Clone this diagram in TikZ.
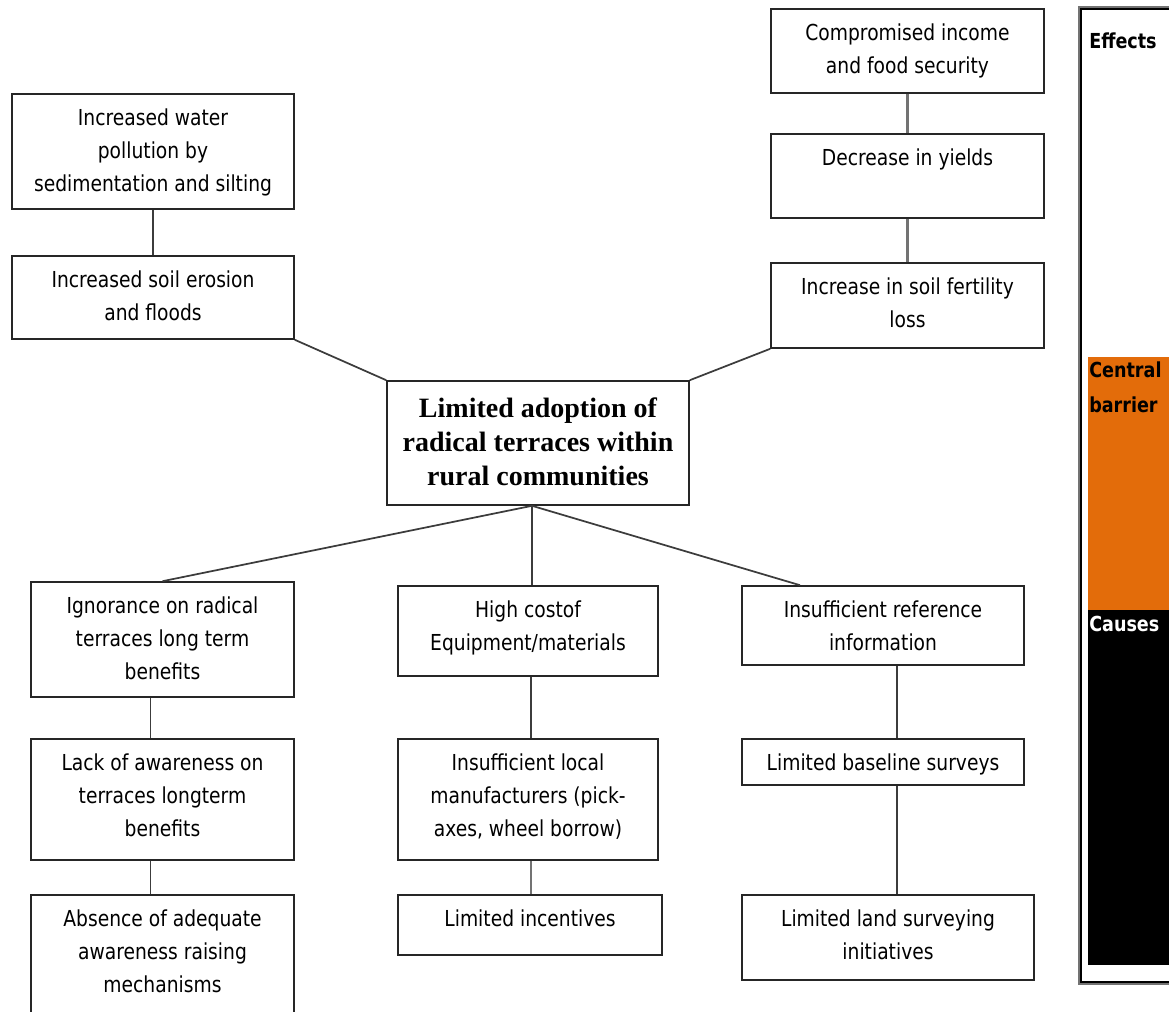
\documentclass[tikz,border=0pt]{standalone}
\usepackage{fontspec}
\usetikzlibrary{fit,calc}
\newfontfamily\cellfont{DejaVu Sans}[FakeStretch=0.85]
\newfontfamily\titlefont{Liberation Serif}
\definecolor{barrierorange}{RGB}{227,108,10}
\definecolor{linkgray}{RGB}{60,60,60}
\definecolor{chaingray}{RGB}{115,115,115}

\tikzset{
  cell/.style={draw=black!85, line width=1.2pt, rectangle, inner sep=0pt},
  celltext/.style={font=\cellfont\fontsize{16.5}{24.75}\selectfont, align=center,
                   inner sep=0pt, anchor=north},
  link/.style={draw=linkgray, line width=1.3pt},
  chain/.style={draw=chaingray, line width=1.7pt},
  sidetext/.style={font=\cellfont\bfseries\fontsize{15.5}{26}\selectfont, align=left,
                   inner sep=0pt},
}

% a framed cell spanning (x1,y1)-(x2,y2) with its text hung from the top edge
\newcommand\cellbox[6]{%
  \node[cell, fit={(#2,#3) (#4,#5)}] (#1) {};
  \node[celltext] (#1-t) at ([yshift=-11.25pt]#1.north) {#6};
}

\begin{document}
\begin{tikzpicture}[x=0.75pt,y=-0.75pt]
\useasboundingbox (0,0) rectangle (1169,1012);
\clip (0,0) rectangle (1169,1012);

% ---- effects ----
\cellbox{B1}{771}{9}{1044}{93}{Compromised income\\and food security}
\cellbox{B2}{771}{134}{1044}{218}{Decrease in yields}
\cellbox{B3}{771}{263}{1044}{348}{Increase in soil fertility\\loss}
\cellbox{L1}{12}{94}{294}{209}{Increased water\\pollution by\\sedimentation and silting}
\cellbox{L2}{12}{256}{294}{339}{Increased soil erosion\\and floods}

% ---- central barrier ----
\node[cell, fit={(387,381) (689,505)}] (core) {};
\node[anchor=north, inner sep=0pt, align=center,
      font=\titlefont\bfseries\fontsize{21}{25.5}\selectfont]
  (core-t) at ([yshift=-13pt]core.north) {Limited adoption of\\radical terraces within\\rural communities};

% ---- causes ----
\cellbox{C1}{31}{582}{294}{697}{Ignorance on radical\\terraces long term\\benefits}
\cellbox{C2}{398}{586}{658}{676}{High costof\\Equipment/materials}
\cellbox{C3}{742}{586}{1024}{665}{Insufficient reference\\information}
\cellbox{C1a}{31}{739}{294}{860}{Lack of awareness on\\terraces longterm\\benefits}
\cellbox{C1b}{31}{895}{294}{1040}{Absence of adequate\\awareness raising\\mechanisms}
\cellbox{C2a}{398}{739}{658}{860}{Insufficient local\\manufacturers (pick-\\axes, wheel borrow)}
\cellbox{C2b}{398}{895}{662}{955}{Limited incentives}
\cellbox{C3a}{742}{739}{1024}{785}{Limited baseline surveys}
\cellbox{C3b}{742}{895}{1034}{980}{Limited land surveying\\initiatives}

% ---- connectors ----
\draw[link] (L1.south) -- (L2.north);
\draw[link] (L2.south east) -- (core.north west);
\draw[chain] (B1.south) -- (B2.north);
\draw[chain] (B2.south) -- (B3.north);
\draw[link] (B3.south west) -- (core.north east);

\coordinate (hub) at ([xshift=-4.5pt]core.south);
\coordinate (C3in) at ([xshift=-62.25pt]C3.north);
\draw[link] (hub) -- (C1.north);
\draw[link] (hub) -- (hub |- C2.north);
\draw[link] (hub) -- (C3in);

\draw[link] ([xshift=-9pt]C1.south) -- ([xshift=-9pt]C1a.north);
\draw[link] ([xshift=-9pt]C1a.south) -- ([xshift=-9pt]C1b.north);
\draw[link] ([xshift=2.25pt]C2.south) -- ([xshift=2.25pt]C2a.north);
\draw[chain] ([xshift=2.25pt]C2a.south) -- ([xshift=2.25pt]C2a.south |- C2b.north);
\draw[link] ([xshift=10.5pt]C3.south) -- ([xshift=10.5pt]C3a.north);
\draw[link] ([xshift=10.5pt]C3a.south) -- ([xshift=10.5pt]C3a.south |- C3b.north);

% ---- side legend ----
\draw[chaingray, line width=1pt] (1079,7) rectangle (1190,984);
\draw[black, line width=1pt] (1081,9) rectangle (1190,982);
\fill[barrierorange] (1088,357) rectangle (1190,610);
\fill[black] (1088,610) rectangle (1190,965);
\node[sidetext, anchor=west] (fx) at (1089,41) {Effects};
\node[sidetext, anchor=north west] (cb) at (1089,362) {Central\\barrier};
\node[sidetext, anchor=west, text=white] (cs) at (1089,624) {Causes};
\end{tikzpicture}
\end{document}
